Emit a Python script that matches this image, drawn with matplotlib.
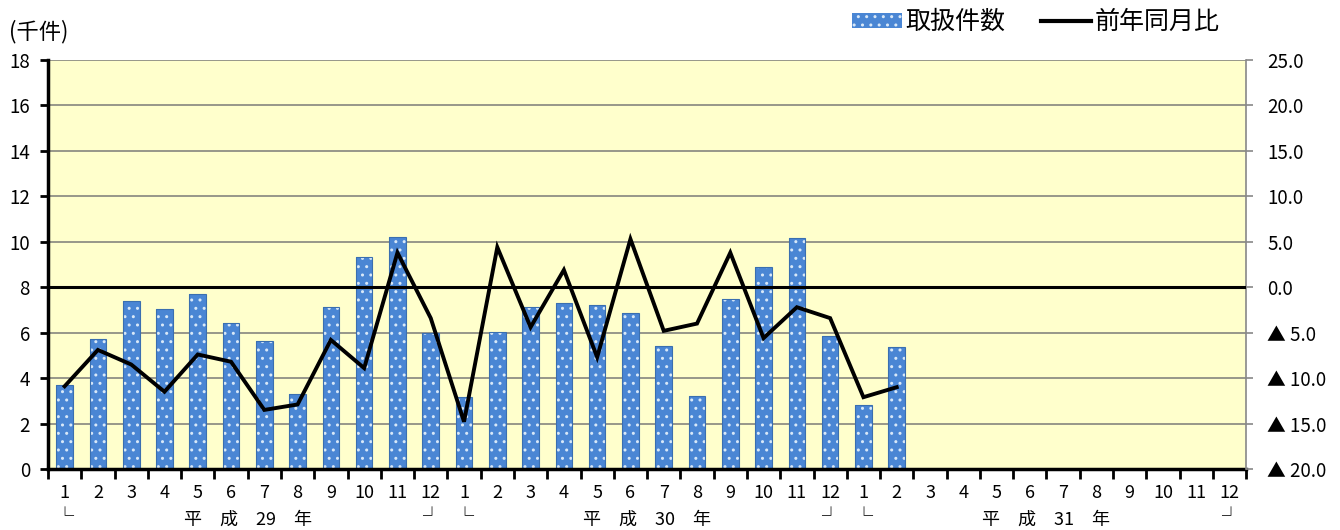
import matplotlib.pyplot as plt
import matplotlib.transforms as mtransforms
from matplotlib.patches import Patch
from matplotlib.lines import Line2D
import numpy as np

plt.rcParams['font.family'] = ['Noto Sans CJK JP', 'DejaVu Sans']
plt.rcParams['hatch.linewidth'] = 1.0

# 取扱件数（千件） 平成29年1月～平成31年2月
counts = [3.70, 5.72, 7.39, 7.04, 7.72, 6.43, 5.62, 3.31, 7.12, 9.32, 10.22, 6.00,
          3.18, 6.04, 7.12, 7.29, 7.22, 6.85, 5.41, 3.23, 7.50, 8.90, 10.15, 5.85,
          2.80, 5.38]
# 前年同月比（％）
yoy = [-10.9, -6.9, -8.5, -11.5, -7.4, -8.2, -13.5, -12.9, -5.8, -8.9, 3.8, -3.4,
       -14.8, 4.4, -4.4, 1.9, -7.7, 5.3, -4.8, -4.0, 3.8, -5.6, -2.2, -3.4,
       -12.1, -11.0]
months = [str(m) for m in range(1, 13)] * 3
years = ['平\u3000成\u300029\u3000年', '平\u3000成\u300030\u3000年', '平\u3000成\u300031\u3000年']

bar_color = '#4A86D4'
dot_color = '#D8E8F8'

fig = plt.figure(figsize=(13.4, 5.3), dpi=100)
ax = fig.add_axes([0.0358, 0.1151, 0.8942, 0.7717])
ax.set_facecolor('#FFFFCC')
ax2 = ax.twinx()

x = np.arange(len(counts))
ax.bar(x, counts, width=0.5, color=bar_color, edgecolor=dot_color, hatch='..',
       linewidth=0, zorder=3)
ax.bar(x, counts, width=0.5, facecolor='none', edgecolor='#3A6FB0',
       linewidth=0.8, zorder=4)

ax.set_xlim(-0.5, 35.5)
ax.set_ylim(0, 18)
ax.set_yticks(range(0, 19, 2))
ax.grid(axis='y', color='#8F8F85', linewidth=1.3, zorder=1)
ax.tick_params(axis='y', labelsize=13.5, length=6, width=2, color='black', pad=7)

# month ticks between categories, labels at centers
ax.set_xticks(np.arange(-0.5, 36, 1))
ax.set_xticklabels([])
ax.tick_params(axis='x', which='major', length=7, width=2, color='black')
ax.set_xticks(np.arange(36), minor=True)
ax.set_xticklabels(months, minor=True, fontsize=13)
ax.tick_params(axis='x', which='minor', length=0, pad=11)

for s in ['left', 'bottom']:
    ax.spines[s].set_linewidth(2.5)
    ax.spines[s].set_zorder(6)
ax.spines['top'].set_visible(False)
ax.spines['right'].set_visible(False)

trans = mtransforms.blended_transform_factory(ax.transData, ax.transAxes)
for i, yl in enumerate(years):
    ax.text(12 * i + 5.5, -0.123, yl, transform=trans, ha='center', va='center',
            fontsize=13)
    ax.text(12 * i, -0.118, '└', transform=trans, ha='center', va='center',
            fontsize=13)
    ax.text(12 * i + 11, -0.118, '┘', transform=trans, ha='center', va='center',
            fontsize=13)

ax2.plot(x, yoy, color='black', linewidth=2.8, solid_joinstyle='miter', zorder=5)
ax2.axhline(0, color='black', linewidth=2.2, zorder=4)
ax2.set_ylim(-20, 25)
rticks = list(range(-20, 26, 5))
ax2.set_yticks(rticks)
ax2.set_yticklabels([f'{v:.1f}' if v >= 0 else f'▲ {-v:.1f}' for v in rticks])
ax2.tick_params(axis='y', labelsize=13.5, length=5, width=1.2, color='#888888', pad=10)
for s in ['left', 'bottom', 'top']:
    ax2.spines[s].set_visible(False)
ax2.spines['right'].set_color('#888888')
ax2.spines['right'].set_linewidth(1.2)

fig.text(0.007, 0.94, '(千件)', fontsize=16, va='center')

handles = [Patch(facecolor=bar_color, edgecolor=dot_color, hatch='..', linewidth=0),
           Line2D([], [], color='black', linewidth=3)]
fig.legend(handles, ['取扱件数', '前年同月比'], loc='center right',
           bbox_to_anchor=(0.91, 0.958), ncol=2, frameon=False, fontsize=18,
           handlelength=2.0, handleheight=0.55, columnspacing=1.4,
           handletextpad=0.15, borderpad=0, borderaxespad=0)

fig.savefig('out.png', dpi=100)
